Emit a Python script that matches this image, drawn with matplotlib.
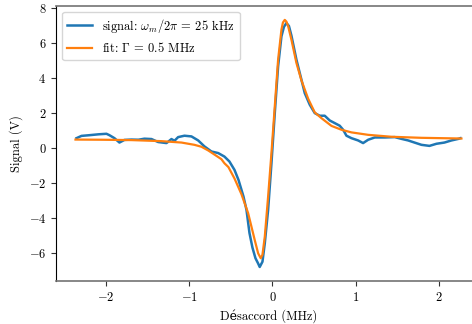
import matplotlib
matplotlib.use("Agg")
import matplotlib.pyplot as plt

plt.rcParams['font.family'] = ['cmr10', 'DejaVu Serif']
plt.rcParams['mathtext.fontset'] = 'cm'
plt.rcParams['axes.formatter.use_mathtext'] = True
plt.rcParams['axes.unicode_minus'] = True

# Signal (blue)
signal_x = [-2.354, -2.294, -2.198, -2.090, -1.994, -1.958, -1.898, -1.838, -1.778, -1.694,
            -1.610, -1.538, -1.453, -1.373, -1.273, -1.213, -1.177, -1.133, -1.057, -0.973,
            -0.892, -0.817, -0.733, -0.652, -0.577, -0.517, -0.456, -0.408, -0.348, -0.312,
            -0.276, -0.240, -0.204, -0.172, -0.153, -0.120, -0.092, -0.052, -0.012, 0.028,
            0.068, 0.108, 0.138, 0.168, 0.198, 0.228, 0.288, 0.348, 0.388, 0.448, 0.508,
            0.568, 0.628, 0.688, 0.748, 0.808, 0.849, 0.889, 0.949, 1.029, 1.089, 1.150,
            1.229, 1.349, 1.469, 1.550, 1.630, 1.706, 1.790, 1.886, 1.970, 2.066, 2.150,
            2.234, 2.258]
signal_y = [0.55, 0.68, 0.72, 0.77, 0.80, 0.72, 0.55, 0.30, 0.45, 0.47,
            0.46, 0.52, 0.50, 0.33, 0.27, 0.50, 0.40, 0.61, 0.69, 0.65,
            0.42, 0.08, -0.21, -0.30, -0.50, -0.78, -1.26, -1.83, -2.78, -3.54,
            -4.86, -5.70, -6.30, -6.60, -6.80, -6.50, -5.45, -3.54, -0.88, 1.98,
            4.65, 6.36, 6.90, 7.12, 6.95, 6.40, 5.03, 3.89, 3.12, 2.46, 1.98,
            1.83, 1.83, 1.56, 1.41, 1.26, 1.03, 0.69, 0.55, 0.42, 0.27, 0.46,
            0.59, 0.59, 0.61, 0.51, 0.42, 0.30, 0.17, 0.11, 0.23, 0.30, 0.42,
            0.51, 0.55]

# Fit (orange)
fit_x = [-2.366, -2.054, -1.694, -1.333, -1.093, -0.937, -0.853, -0.772, -0.692, -0.613,
         -0.577, -0.529, -0.456, -0.372, -0.292, -0.213, -0.172, -0.141, -0.120, -0.092,
         -0.052, -0.012, 0.028, 0.068, 0.108, 0.126, 0.148, 0.168, 0.189, 0.228, 0.288,
         0.348, 0.429, 0.508, 0.589, 0.709, 0.829, 0.949, 1.150, 1.429, 1.790, 2.270]
fit_y = [0.47, 0.46, 0.44, 0.38, 0.30, 0.17, 0.06, -0.15, -0.40, -0.65,
         -0.88, -1.10, -1.75, -2.65, -3.73, -5.26, -6.02, -6.30, -6.10, -5.07,
         -2.78, -0.30, 2.36, 5.03, 6.74, 7.15, 7.30, 7.20, 6.93, 6.17, 4.84,
         3.85, 2.80, 2.02, 1.69, 1.25, 1.03, 0.88, 0.74, 0.63, 0.57, 0.53]

fig = plt.figure(figsize=(4.72, 3.24), dpi=100)
W, H = 472, 324
ax = fig.add_axes([56 / W, 43 / H, 5.1 * 83.25 / W, 275.5 / H])
ax.plot(signal_x, signal_y, color='#1f77b4', lw=1.8, label=r'signal: $\omega_m/2\pi$ = 25 kHz')
ax.plot(fit_x, fit_y, color='#ff7f0e', lw=1.6, label=r'fit: $\Gamma$ = 0.5 MHz')
ax.set_xlim(-2.6, 2.5)
ax.set_ylim(-7.6, 8.12)
ax.set_xticks([-2, -1, 0, 1, 2])
ax.set_yticks([-6, -4, -2, 0, 2, 4, 6, 8])
ax.set_xlabel('Désaccord (MHz)', fontsize=9)
ax.set_ylabel('Signal (V)', fontsize=9)
ax.tick_params(labelsize=9, length=3.5, color='0.2')
ax.spines['left'].set_color('black')
for s in ['bottom', 'top', 'right']:
    ax.spines[s].set_color('0.45')
    ax.spines[s].set_linewidth(1.2)
ax.legend(loc='upper left', fontsize=9, framealpha=0.8, edgecolor='0.8')
fig.savefig('out.png', dpi=100)
